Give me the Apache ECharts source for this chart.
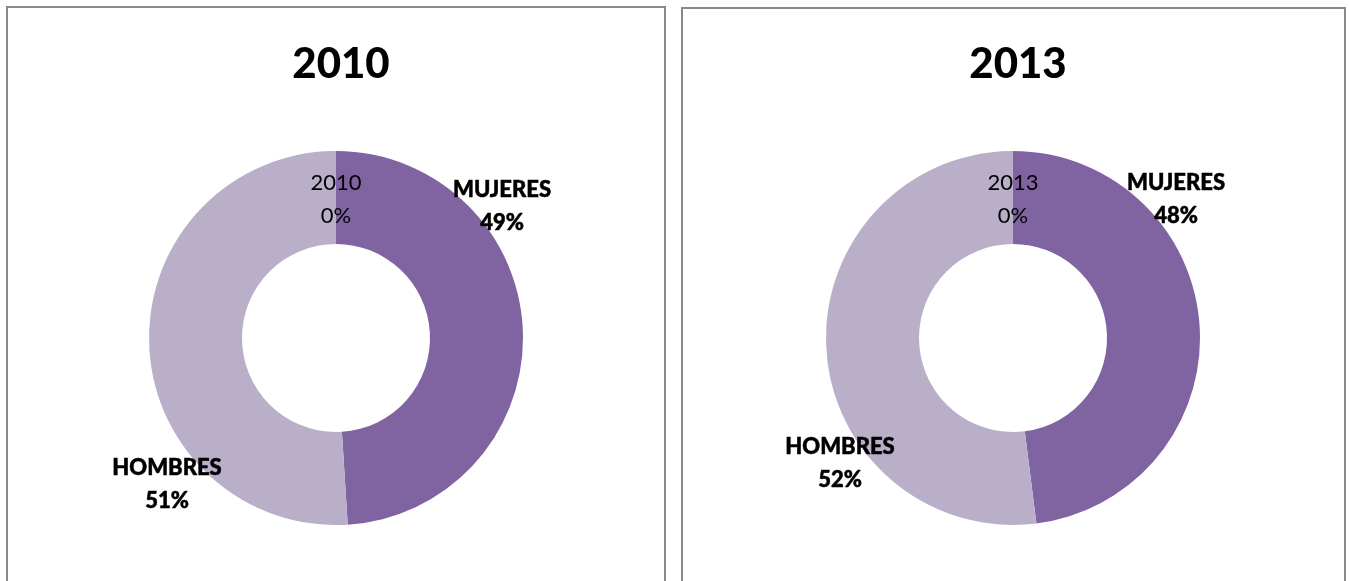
<!DOCTYPE html>
<html>
<head>
<meta charset="utf-8">
<script src="https://cdn.jsdelivr.net/npm/echarts@6/dist/echarts.min.js"></script>
<style>
  html, body { margin: 0; padding: 0; background: #ffffff; }
  #chart-container { width: 1349px; height: 581px; }
</style>
</head>
<body>
<div id="chart-container"></div>
<script>
// data
const years = ['2010', '2013'];
const categories = ['MUJERES', 'HOMBRES'];
const mujeres = [49, 48];
const hombres = [51, 52];
const yearSlice = [0, 0]; // the stray "year" slice Excel drew with 0%

// layout (not data)
const pieCenters = [[336, 338], [1013, 338]];
// label offsets from the pie centre: [mujeres, hombres, year]
const labelOffsets = [
    [[166, -132], [-169, 146], [0, -139]],
    [[163, -139], [-173, 125], [0, -139]]
];

const colorDark = '#8064A2';
const colorLight = '#B9AFC9';
const fontFamily = 'Lato, "Open Sans", sans-serif';

const makeSeries = (i) => ({
    type: 'pie',
    center: pieCenters[i],
    radius: [94, 187],
    startAngle: 90,
    clockwise: true,
    avoidLabelOverlap: false,
    silent: true,
    animation: false,
    itemStyle: { borderWidth: 0 },
    label: {
        show: true,
        position: 'outside',
        color: '#000000',
        formatter: (p) => {
            const style = p.dataIndex < 2 ? 'b' : 'n';
            return '{' + style + '|' + p.name + '}\n{' + style + '|' + Math.round(p.percent) + '%}';
        },
        rich: {
            b: { fontFamily: fontFamily, fontSize: 22, lineHeight: 33, fontWeight: 900, color: '#000000',
                 textBorderColor: '#000000', textBorderWidth: 0.5 },
            n: { fontFamily: fontFamily, fontSize: 22, lineHeight: 33, fontWeight: 'normal', color: '#000000' }
        }
    },
    labelLine: { show: false },
    labelLayout: (params) => {
        const off = labelOffsets[i][params.dataIndex];
        return {
            x: pieCenters[i][0] + off[0],
            y: pieCenters[i][1] + off[1],
            align: 'center',
            verticalAlign: 'middle'
        };
    },
    data: [
        { name: categories[0], value: mujeres[i], itemStyle: { color: colorDark } },
        { name: categories[1], value: hombres[i], itemStyle: { color: colorLight } },
        { name: years[i], value: yearSlice[i], itemStyle: { color: colorLight } }
    ]
});

const drawChart = () => {
    const chartContainer = document.getElementById('chart-container');
    const myChart = echarts.init(chartContainer);

    const options = {
        backgroundColor: '#ffffff',
        title: years.map((y, i) => ({
            text: y,
            left: pieCenters[i][0],
            top: 38,
            textAlign: 'center',
            textStyle: {
                fontFamily: fontFamily,
                fontSize: 42,
                fontWeight: 900,
                color: '#000000'
            }
        })),
        graphic: [
            { type: 'rect', shape: { x: 7, y: 7, width: 658, height: 600 }, style: { fill: null, stroke: '#898989', lineWidth: 2 }, silent: true },
            { type: 'rect', shape: { x: 682, y: 8, width: 663, height: 600 }, style: { fill: null, stroke: '#898989', lineWidth: 2 }, silent: true }
        ],
        series: years.map((y, i) => makeSeries(i))
    };

    myChart.setOption(options);
};

// make sure the Lato weights are ready before the canvas draws text
if (document.fonts && document.fonts.load) {
    Promise.all([
        document.fonts.load('900 42px Lato'),
        document.fonts.load('900 22px Lato'),
        document.fonts.load('normal 22px Lato')
    ]).then(drawChart, drawChart);
} else {
    drawChart();
}
</script>
</body>
</html>
